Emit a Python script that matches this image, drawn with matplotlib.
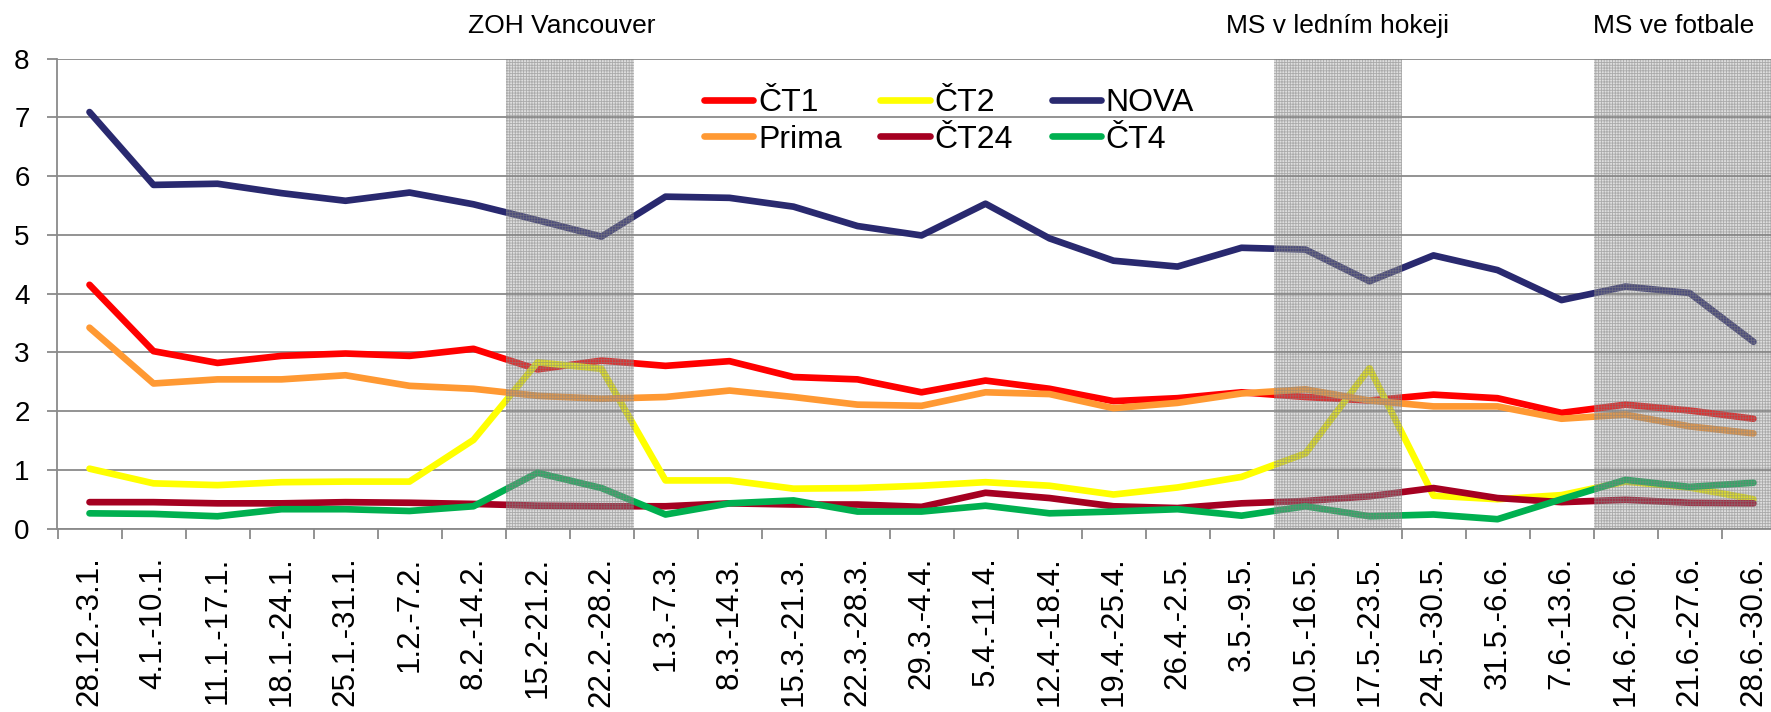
import matplotlib
matplotlib.use("Agg")
import matplotlib.pyplot as plt
import numpy as np

plt.rcParams['font.family'] = ['Liberation Sans', 'DejaVu Sans']
plt.rcParams['hatch.linewidth'] = 0.6

tydny = ['28.12.-3.1.', '4.1.-10.1.', '11.1.-17.1.', '18.1.-24.1.', '25.1.-31.1.',
         '1.2.-7.2.', '8.2.-14.2.', '15.2-21.2.', '22.2.-28.2.', '1.3.-7.3.',
         '8.3.-14.3.', '15.3.-21.3.', '22.3.-28.3.', '29.3.-4.4.', '5.4.-11.4.',
         '12.4.-18.4.', '19.4.-25.4.', '26.4.-2.5.', '3.5.-9.5.', '10.5.-16.5.',
         '17.5.-23.5.', '24.5.-30.5.', '31.5.-6.6.', '7.6.-13.6.', '14.6.-20.6.',
         '21.6.-27.6.', '28.6.-30.6.']

ct1 = [4.15, 3.02, 2.82, 2.94, 2.98, 2.94, 3.06, 2.71, 2.86, 2.77,
       2.85, 2.58, 2.54, 2.32, 2.52, 2.38, 2.17, 2.22, 2.32, 2.24,
       2.18, 2.28, 2.22, 1.97, 2.11, 2.01, 1.87]
ct2 = [1.02, 0.77, 0.74, 0.79, 0.80, 0.80, 1.51, 2.83, 2.72, 0.82,
       0.82, 0.68, 0.69, 0.73, 0.79, 0.73, 0.58, 0.70, 0.88, 1.28,
       2.73, 0.56, 0.50, 0.57, 0.80, 0.70, 0.50]
nova = [7.09, 5.85, 5.87, 5.71, 5.58, 5.72, 5.52, 5.25, 4.97, 5.65,
        5.63, 5.48, 5.15, 4.99, 5.53, 4.94, 4.56, 4.46, 4.78, 4.75,
        4.21, 4.65, 4.40, 3.89, 4.12, 4.01, 3.18]
prima = [3.42, 2.47, 2.54, 2.54, 2.61, 2.43, 2.38, 2.26, 2.21, 2.24,
         2.35, 2.24, 2.11, 2.09, 2.32, 2.29, 2.05, 2.14, 2.30, 2.37,
         2.18, 2.08, 2.08, 1.87, 1.94, 1.74, 1.62]
ct24 = [0.45, 0.45, 0.43, 0.43, 0.45, 0.44, 0.42, 0.39, 0.38, 0.38,
        0.43, 0.41, 0.41, 0.37, 0.61, 0.52, 0.38, 0.35, 0.43, 0.47,
        0.55, 0.69, 0.52, 0.45, 0.49, 0.44, 0.43]
ct4 = [0.26, 0.25, 0.21, 0.33, 0.33, 0.30, 0.38, 0.95, 0.69, 0.24,
       0.43, 0.48, 0.29, 0.29, 0.39, 0.26, 0.29, 0.33, 0.22, 0.38,
       0.21, 0.24, 0.16, 0.50, 0.83, 0.71, 0.78]

stanice = ['ČT1', 'ČT2', 'NOVA', 'Prima', 'ČT24', 'ČT4']
barvy = ['#ff0000', '#ffff00', '#29296f', '#ff9933', '#a50021', '#00b050']
serie = [ct1, ct2, nova, prima, ct24, ct4]

# sportovni udalosti (prvni a posledni tyden) + pozice popisku
udalosti = ['ZOH Vancouver', 'MS v ledním hokeji', 'MS ve fotbale']
od_tydne = [7, 19, 24]
do_tydne = [8, 20, 26]
popisek_x = [7.38, 19.5, 24.75]

fig = plt.figure(figsize=(17.71, 7.12), dpi=100)
ax = fig.add_axes([57.5 / 1771, 1 - 528.6 / 712, 1728 / 1771, 470 / 712])

x = np.arange(len(tydny))
car = {}
for i in range(len(stanice)):
    car[stanice[i]], = ax.plot(x, serie[i], color=barvy[i], lw=4.8, label=stanice[i],
                               solid_capstyle='round', solid_joinstyle='round', zorder=3 + i * 0.1)

for a, b, txt, tx in zip(od_tydne, do_tydne, udalosti, popisek_x):
    ax.axvspan(a - 0.5, b + 0.5, facecolor=(0.6, 0.6, 0.6, 0.32),
               edgecolor=(0.5, 0.5, 0.5, 0.55), hatch='++++++', lw=0, zorder=5)
    ax.text(tx, 1.0 + 33 / 470, txt, transform=ax.get_xaxis_transform(),
            ha='center', va='center', fontsize=19)

ax.set_xlim(-0.5, len(tydny) - 0.5)
ax.set_ylim(0, 8)
ax.set_yticks(range(9))
ax.yaxis.grid(True, color='#8a8a8a', lw=1.3)
ax.set_axisbelow(True)

ax.set_xticks(x)
ax.set_xticklabels(tydny, rotation=90)
ax.set_xticks(np.arange(len(tydny) + 1) - 0.5, minor=True)
ax.tick_params(axis='x', which='major', length=0, pad=20, labelsize=22.5)
ax.tick_params(axis='x', which='minor', length=7, width=1.3, color='#8a8a8a', direction='out')
ax.tick_params(axis='y', length=7, width=1.3, color='#8a8a8a', labelsize=20, pad=13)

for s in ['top', 'right']:
    ax.spines[s].set_visible(False)
for s in ['left', 'bottom']:
    ax.spines[s].set_color('#8a8a8a')
    ax.spines[s].set_linewidth(1.3)

poradi = ['ČT1', 'Prima', 'ČT2', 'ČT24', 'NOVA', 'ČT4']
leg = fig.legend([car[k] for k in poradi], poradi, ncol=3, loc='upper left',
                 bbox_to_anchor=(0.3975, 0.876), frameon=False, fontsize=23,
                 handlelength=1.55, handletextpad=0.15, columnspacing=1.2,
                 labelspacing=0.2, borderpad=0, borderaxespad=0)

fig.savefig('out.png', dpi=100)
